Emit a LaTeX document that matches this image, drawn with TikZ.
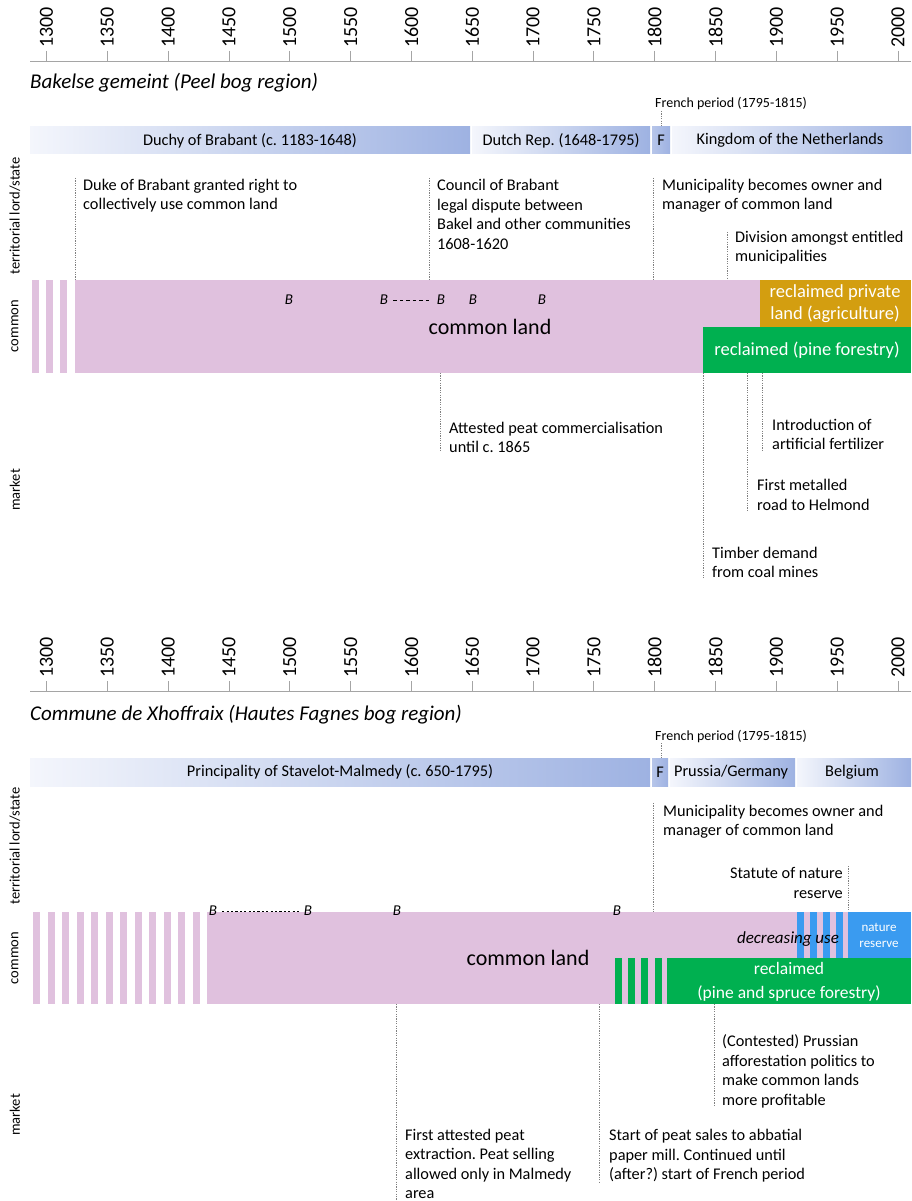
\documentclass[tikz,border=0pt]{standalone}
\usepackage{fontspec}
\setmainfont{Carlito}
\definecolor{pinkband}{RGB}{224,193,222}
\definecolor{orangebox}{RGB}{211,158,16}
\definecolor{greenbox}{RGB}{0,176,80}
\definecolor{bluebox}{RGB}{58,155,240}
\definecolor{barlight}{RGB}{244,246,252}
\definecolor{bardark}{RGB}{158,178,226}
\definecolor{axisgray}{RGB}{165,165,165}
\begin{document}
\frenchspacing
\begin{tikzpicture}[x=1pt,y=-1pt,
  ann/.style={anchor=west, inner sep=0pt, align=left, font=\fontsize{16.3}{19.5}\selectfont},
  guide/.style={draw=gray, line width=0.6pt, dash pattern=on 1.2pt off 1.2pt},
  axisline/.style={draw=axisgray, line width=0.9pt},
  yearlbl/.style={rotate=90, anchor=west, inner sep=0pt, font=\fontsize{20}{20}\selectfont},
  sidelbl/.style={rotate=90, inner sep=0pt, font=\fontsize{14.5}{14.5}\selectfont},
  titlelbl/.style={anchor=west, inner sep=0pt, font=\itshape\fontsize{21}{21}\selectfont},
  frlbl/.style={anchor=west, inner sep=0pt, font=\fontsize{14}{14}\selectfont},
  barlbl/.style={inner sep=0pt, font=\fontsize{16.3}{16.3}\selectfont},
  barshade/.style={left color=barlight, right color=bardark},
  bmark/.style={inner sep=0pt, font=\itshape\fontsize{15}{15}\selectfont},
  bigland/.style={inner sep=0pt, font=\fontsize{22}{22}\selectfont},
  boxtxt/.style={inner sep=0pt, align=center, text=white, font=\fontsize{18.5}{21.5}\selectfont},
]
\useasboundingbox[fill=white] (0,0) rectangle (911,1201);

% ================= TOP PANEL =================
\draw[axisline] (30,61) -- (911,61);
\foreach \yr in {1300,1350,...,2000}{
  \pgfmathsetmacro\xx{46.5+(\yr-1300)*1.2164}
  \draw[axisline] (\xx,51) -- (\xx,61);
  \node[yearlbl] (ya\yr) at (\xx,48) {\yr};
}
\node[titlelbl] (title1) at (30,83) {Bakelse gemeint (Peel bog region)};
\node[frlbl] (fr1) at (655,104) {French period (1795-1815)};
\draw[guide] (661,111) -- (661,127);

\shade[barshade] (30,127) rectangle (470,154);
\node[barlbl] (duchy) at (250,140.5) {Duchy of Brabant (c. 1183-1648)};
\shade[barshade] (472,127) rectangle (650,154);
\node[barlbl] (dutch) at (561,140.5) {Dutch Rep. (1648-1795)};
\shade[left color=bardark!75!white, right color=bardark] (652,127) rectangle (670,154);
\node[barlbl] (f1) at (661,140.5) {F};
\shade[barshade] (672,127) rectangle (911,154);
\node[barlbl] (kingdom) at (790,140.5) {Kingdom of the Netherlands};

\node[sidelbl] (s1) at (15,216) {territorial lord/state};
\node[sidelbl] (s2) at (15,326) {common};
\node[sidelbl] (s3) at (15,490) {market};

\draw[guide] (75,178) -- (75,280);
\node[ann] (duke) at (83,195.5) {Duke of Brabant granted right to\\collectively use common land};
\draw[guide] (429,178) -- (429,280);
\node[ann] (council) at (437,214.5) {Council of Brabant\\legal dispute between\\Bakel and other communities\\1608-1620};
\draw[guide] (653,178) -- (653,280);
\node[ann] (muni1) at (662,195.5) {Municipality becomes owner and\\manager of common land};
\draw[guide] (727,232) -- (727,280);
\node[ann] (div) at (735,247.5) {Division amongst entitled\\municipalities};

% band
\foreach \i in {0,1,2}{
  \fill[pinkband] ({32+14.2*\i},280) rectangle ({38.5+14.2*\i},373);
}
\fill[pinkband] (75,280) rectangle (911,373);
\fill[orangebox] (760,280) rectangle (911,327);
\fill[greenbox] (703,327) rectangle (911,373);
\node[boxtxt] (priv) at (835,303.5) {reclaimed private\\land (agriculture)};
\node[boxtxt] (pine) at (807,350) {reclaimed (pine forestry)};
\node[bigland] (cl1) at (490,327) {common land};
\node[bmark] (b1) at (289,300) {B};
\node[bmark] (b2) at (384,300) {B};
\node[bmark] (b3) at (441,300) {B};
\node[bmark] (b4) at (473,300) {B};
\node[bmark] (b5) at (542,300) {B};
\draw[line width=0.9pt, dash pattern=on 3.5pt off 3pt] ([xshift=5pt]b2.east) -- ([xshift=-5pt]b3.west);

% below band
\draw[guide] (440,373) -- (440,452);
\node[ann] (peat1) at (449,437.5) {Attested peat commercialisation\\until c. 1865};
\draw[guide] (703,373) -- (703,578);
\node[ann] (timber) at (712,562.5) {Timber demand\\from coal mines};
\draw[guide] (747,373) -- (747,510);
\node[ann] (road) at (757,495) {First metalled\\road to Helmond};
\draw[guide] (762,373) -- (762,452);
\node[ann] (fert) at (772,434.5) {Introduction of\\artificial fertilizer};

% ================= BOTTOM PANEL =================
\draw[axisline] (30,691) -- (911,691);
\foreach \yr in {1300,1350,...,2000}{
  \pgfmathsetmacro\xx{46.5+(\yr-1300)*1.2164}
  \draw[axisline] (\xx,681) -- (\xx,691);
  \node[yearlbl] (yb\yr) at (\xx,678) {\yr};
}
\node[titlelbl] (title2) at (30,715) {Commune de Xhoffraix (Hautes Fagnes bog region)};
\node[frlbl] (fr2) at (655,736) {French period (1795-1815)};
\draw[guide] (661,743) -- (661,758);

\shade[barshade] (30,758) rectangle (650,786);
\node[barlbl] (princ) at (340,772) {Principality of Stavelot-Malmedy (c. 650-1795)};
\shade[left color=bardark!75!white, right color=bardark] (652,758) rectangle (668,786);
\node[barlbl] (f2) at (660,772) {F};
\shade[barshade] (670,758) rectangle (795,786);
\node[barlbl] (prussia) at (731,772) {Prussia/Germany};
\shade[barshade] (797,758) rectangle (911,786);
\node[barlbl] (belgium) at (852,772) {Belgium};

\node[sidelbl] (s4) at (15,846) {territorial lord/state};
\node[sidelbl] (s5) at (15,958) {common};
\node[sidelbl] (s6) at (15,1115) {market};

\draw[guide] (653,803) -- (653,912);
\node[ann] (muni2) at (663,821.5) {Municipality becomes owner and\\manager of common land};
\draw[guide] (848,866) -- (848,912);
\node[ann, anchor=east, align=right] (statute) at (843,883) {Statute of nature\\reserve};

% band
\foreach \i in {0,...,11}{
  \fill[pinkband] ({33+14.5*\i},912) rectangle ({40+14.5*\i},1004);
}
\fill[pinkband] (207,912) rectangle (911,1004);
\foreach \i in {0,...,3}{
  \fill[greenbox] ({615+13.2*\i},958) rectangle ({622+13.2*\i},1004);
  \fill[bluebox] ({797+13*\i},912) rectangle ({803.5+13*\i},958);
}
\fill[greenbox] (667,958) rectangle (911,1004);
\fill[bluebox] (848,912) rectangle (911,958);
\node[inner sep=0pt, align=center, text=white, font=\fontsize{13}{16}\selectfont] (nat) at (879,935) {nature\\reserve};
\node[inner sep=0pt, font=\itshape\fontsize{17}{17}\selectfont] (decr) at (788,939) {decreasing use};
\node[boxtxt, font=\fontsize{17.5}{24}\selectfont] (spruce) at (789,982) {reclaimed\\(pine and spruce forestry)};
\node[bigland] (cl2) at (528,958) {common land};
\node[bmark] (c1) at (213,911) {B};
\node[bmark] (c2) at (308,911) {B};
\node[bmark] (c3) at (397,911) {B};
\node[bmark] (c4) at (617,911) {B};
\draw[line width=0.9pt, dash pattern=on 2.2pt off 2.2pt] ([xshift=5pt]c1.east) -- ([xshift=-3pt]c2.west);

% below band
\draw[guide] (396,1004) -- (396,1201);
\node[ann] (peat2) at (405,1164) {First attested peat\\extraction. Peat selling\\allowed only in Malmedy\\area};
\draw[guide] (599,1004) -- (599,1183);
\node[ann] (sales) at (609,1156) {Start of peat sales to abbatial\\paper mill. Continued until\\(after?) start of French period};
\draw[guide] (714,1004) -- (714,1105);
\node[ann] (contested) at (722,1071.5) {(Contested) Prussian\\afforestation politics to\\make common lands\\more profitable};
\end{tikzpicture}
\end{document}
